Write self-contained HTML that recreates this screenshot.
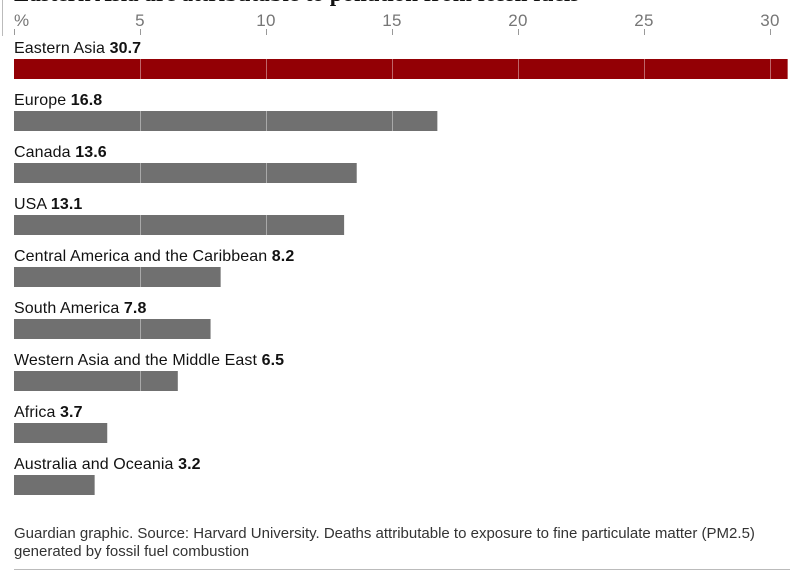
<!DOCTYPE html>
<html><head><meta charset="utf-8"><style>
body{margin:0;width:807px;height:576px;overflow:hidden;background:#fff;font-family:"Liberation Sans",sans-serif;position:relative}
.t{position:absolute;white-space:nowrap}
</style></head><body>
<div class="t" style="left:14px;top:-19px;font:bold 23px 'Liberation Serif',serif;color:#121212">Eastern Asia are attributable to pollution from fossil fuels</div>
<div style="position:absolute;left:2px;top:0;width:1px;height:36px;background:#bbb"></div>
<svg id="c" width="807" height="576" style="position:absolute;left:0;top:0"></svg>
<div class="t" style="left:14px;top:525px;font-size:15px;line-height:18px;color:#333">Guardian graphic. Source: Harvard University. Deaths attributable to exposure to fine particulate matter (PM2.5)<br>generated by fossil fuel combustion</div>
<div style="position:absolute;left:14px;top:569px;width:776px;height:1px;background:#bbb"></div>
<script>
const categories=["Eastern Asia","Europe","Canada","USA","Central America and the Caribbean","South America","Western Asia and the Middle East","Africa","Australia and Oceania"];
const values=[30.7,16.8,13.6,13.1,8.2,7.8,6.5,3.7,3.2];
const ticks=[0,5,10,15,20,25,30];
const tickLabels=["%","5","10","15","20","25","30"];
const NS="http://www.w3.org/2000/svg",svg=document.getElementById('c');
const x=v=>14+v*25.2;
const rowY=i=>59+i*52;
function mk(t,a){const e=document.createElementNS(NS,t);for(const k in a)e.setAttribute(k,a[k]);svg.appendChild(e);return e;}
ticks.forEach((t,i)=>{
const l=mk('line',{x1:x(t)+0.5,x2:x(t)+0.5,y1:29,y2:35,stroke:'#999'});


const tx=mk('text',{x:x(t),y:26,'font-size':17,fill:'#767676','text-anchor':i==0?'start':'middle','font-family':'Liberation Sans, sans-serif','letter-spacing':'0.3'});
tx.textContent=tickLabels[i];


});
categories.forEach((c,i)=>{
const y=rowY(i);
const r=mk('rect',{x:14,y:y,width:x(values[i])-14,height:20,fill:i==0?'#930005':'#707070'});


ticks.slice(1).forEach(t=>{if(x(t)<x(values[i])){const g=mk('line',{x1:x(t)+0.5,x2:x(t)+0.5,y1:y,y2:y+20,stroke:'rgba(255,255,255,0.4)'});

}});
const tx=mk('text',{x:14,y:y-6,'font-size':16,fill:'#121212','font-family':'Liberation Sans, sans-serif','letter-spacing':'0.1'});
tx.innerHTML=c+' <tspan font-weight="bold">'+values[i]+'</tspan>';


});
</script>
</body></html>
